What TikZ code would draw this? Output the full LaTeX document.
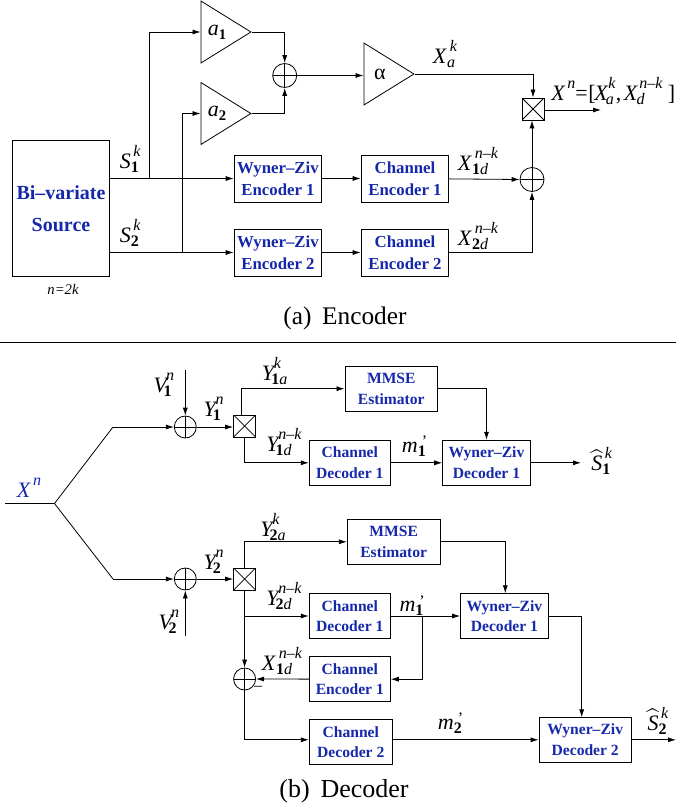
\documentclass[tikz,border=0pt]{standalone}
\usepackage{amsmath}
\usepackage{fontspec}
\setmainfont{Liberation Serif}
\usepackage{xcolor}
\usepackage{tikz}
\usetikzlibrary{arrows.meta}
\usetikzlibrary{shapes.geometric}
\definecolor{boxblue}{RGB}{22,40,170}
\newcommand{\smallsz}{\fontsize{12}{12}\selectfont}
\newcommand{\sym}[3]{\textit{#1}\rlap{\raisebox{-3pt}{\smallsz #2}}\kern2pt\raisebox{9pt}{\smallsz\textit{#3}}}
\newcommand{\prm}[2]{\textit{#1}\rlap{\raisebox{-3pt}{\smallsz #2}}\kern3pt\raisebox{4pt}{\smallsz '}}
\newcommand{\nar}[2]{\rlap{#1}\kern#2pt}
\newcommand{\bo}[1]{\textbf{#1}}
\newcommand{\nk}{n\textendash k}
\tikzset{
  sig/.style={-{Latex[length=6pt,width=3.8pt]}, line width=0.6pt},
  wire/.style={line width=0.6pt},
  srcbox/.style={draw, line width=0.7pt, align=center, text=boxblue, inner sep=0pt,
    font=\fontsize{15}{24}\selectfont\bfseries},
  encbox/.style={draw, line width=0.7pt, align=center, text=boxblue, inner sep=0pt,
    minimum width=65.8pt, minimum height=35.2pt, font=\fontsize{12.6}{16.8}\selectfont\bfseries},
  decbox/.style={draw, line width=0.7pt, align=center, text=boxblue, inner sep=0pt,
    minimum height=33.8pt, font=\fontsize{11.7}{15.4}\selectfont\bfseries},
  gain/.style={draw, line width=0.6pt, isosceles triangle, isosceles triangle stretches,
    shape border rotate=0, minimum width=46.5pt, minimum height=37.5pt, inner sep=0pt,
    anchor=lower side, font=\fontsize{16.5}{18}\selectfont},
  sumnode/.style={draw, line width=0.6pt, circle, minimum size=#1, inner sep=0pt,
    path picture={
      \draw [line width=0.6pt] (path picture bounding box.north) -- (path picture bounding box.south);
      \draw [line width=0.6pt] (path picture bounding box.west) -- (path picture bounding box.east);}},
  muxnode/.style={draw, line width=0.7pt, minimum size=16.5pt, inner sep=0pt,
    path picture={
      \draw [line width=0.6pt] (path picture bounding box.north west) -- (path picture bounding box.south east);
      \draw [line width=0.6pt] (path picture bounding box.south west) -- (path picture bounding box.north east);}},
  lab/.style={inner sep=0pt, anchor=base west, font=\fontsize{16.5}{18}\selectfont}
}
\begin{document}
\begin{tikzpicture}[x=0.75pt,y=-0.75pt]
    \useasboundingbox (0,0) rectangle (676,807);
    % encoder
    \node[srcbox, minimum width=72.5pt, minimum height=102pt] (src) at (61,208.5) {Bi\textendash variate\\Source};
    \node[gain] (a1) at (200.5,32) {\raisebox{-1.5pt}{\textit{a}\raisebox{-3pt}{\fontsize{11}{12}\selectfont\bo{1}}}};
    \node[gain] (a2) at (200.5,113.5) {\raisebox{-1.5pt}{\textit{a}\raisebox{-3pt}{\fontsize{11}{12}\selectfont\bo{2}}}};
    \node[gain] (al) at (363.5,74) {\raisebox{-1.5pt}{α}};
    \node[sumnode=18pt] (sum1) at (284.7,75.5) {};
    \node[sumnode=18pt] (sum2) at (532,179.5) {};
    \node[muxnode] (mux0) at (533,109) {};
    \node[encbox] (wz1) at (278,178.5) {Wyner\textendash Ziv\\Encoder 1};
    \node[encbox] (wz2) at (278,252.5) {Wyner\textendash Ziv\\Encoder 2};
    \node[encbox] (ce1) at (405,178.5) {Channel\\Encoder 1};
    \node[encbox] (ce2) at (405,252.5) {Channel\\Encoder 2};
    \coordinate (s1o) at (src.east |- wz1);
    \coordinate (s2o) at (src.east |- wz2);
    \coordinate (tap1) at (149,178.5);
    \coordinate (tap2) at (182,252.5);
    \coordinate (xout) at (601,110);
    \path [sig] (s1o) edge (wz1);
    \path [sig] (s2o) edge (wz2);
    \draw [sig] (tap1) |- (a1.lower side);
    \draw [sig] (tap2) |- (a2.lower side);
    \draw [sig] (a1.apex) -| (sum1.north);
    \draw [sig] (a2.apex) -| (sum1.south);
    \path [sig] (sum1) edge (sum1 -| al.lower side);
    \draw [sig] (al.apex) -| (mux0.north);
    \path [sig] (wz1) edge (ce1);
    \path [sig] (wz2) edge (ce2);
    \path [sig] (ce1) edge (sum2.west);
    \draw [sig] (ce2) -| (sum2.south);
    \path [sig] (sum2.north) edge (sum2.north |- mux0.south);
    \path [sig] (mux0.east |- xout) edge (xout);
    \node[lab] (ls1) at (119.5,168) {\sym{S}{\bo{1}}{k}};
    \node[lab] (ls2) at (119.5,242.5) {\sym{S}{\bo{2}}{k}};
    \node[lab] (lxa) at (432.7,63.3) {\sym{X}{\textit{a}}{k}};
    \node[lab] (lx1d) at (457.7,170.7) {\sym{X}{\bo{1}\textit{d}}{\nk}};
    \node[lab] (lx2d) at (457.7,245) {\sym{X}{\bo{2}\textit{d}}{\nk}};
    \node[lab] (lxn) at (551,100) {\textit{X}\kern1.5pt\raisebox{9pt}{\smallsz\textit{n}}=\kern0.5pt[\kern-1pt\sym{\nar{X}{8.5}}{\textit{a}}{k},\kern2pt\sym{\nar{X}{9.5}}{\textit{d}}{\nk}\kern4pt]};
    \node[inner sep=0pt, font=\fontsize{11}{12}\selectfont\itshape] (lnk) at (63,289) {n=2k};
    \node[inner sep=0pt, font=\fontsize{19}{22}\selectfont] (capa) at (345,318) {(a)\, Encoder};
    % separator
    \coordinate (ruleL) at (0,342);
    \coordinate (ruleR) at (676,342);
    \path [wire] (ruleL) edge (ruleR);
    % decoder
    \coordinate (xin) at (5,503.5);
    \coordinate (xsp) at (54.5,503.5);
    \coordinate (xup) at (113,427);
    \coordinate (xdn) at (113,579);
    \coordinate (v1) at (185.3,370);
    \coordinate (v2) at (185.3,636);
    \node[sumnode=16.5pt] (sum3) at (185.3,427) {};
    \node[sumnode=16.5pt] (sum4) at (185.3,579) {};
    \node[sumnode=16.5pt] (sum5) at (244.6,679) {};
    \node[muxnode] (mux1) at (244.6,426) {};
    \node[muxnode] (mux2) at (244.6,579) {};
    \coordinate (m1u) at (241.3,415.3);
    \node[decbox, minimum width=69.5pt] (est1) at (391.3,388.7) {MMSE\\Estimator};
    \node[decbox, minimum width=69.5pt] (est2) at (393.7,541.8) {MMSE\\Estimator};
    \node[decbox, minimum width=60.8pt] (cd1) at (349.8,462.8) {Channel\\Decoder 1};
    \node[decbox, minimum width=65.7pt] (wd1) at (486.5,462.8) {Wyner\textendash Ziv\\Decoder 1};
    \node[decbox, minimum width=60.8pt] (cd2) at (349.8,616) {Channel\\Decoder 1};
    \node[decbox, minimum width=60.8pt] (ce3) at (349.8,679.2) {Channel\\Encoder 1};
    \node[decbox, minimum width=62.2pt] (cd3) at (350.8,742.2) {Channel\\Decoder 2};
    \node[decbox, minimum width=65.7pt] (wd2) at (504.4,616) {Wyner\textendash Ziv\\Decoder 1};
    \node[decbox, minimum width=69.2pt] (wd3) at (585.2,739.8) {Wyner\textendash Ziv\\Decoder 2};
    \coordinate (s1e) at (581,462.8);
    \coordinate (s2e) at (676,739.8);
    \coordinate (tapm) at (422,616);
    \coordinate (tapy) at (244.6,616);
    \coordinate (wd2in) at (505.3,593.3);
    \coordinate (wd3in) at (581.7,717.3);
    \coordinate (cd3o) at (cd3.east |- wd3);
    \draw [wire] (xin) -- (xsp) -- (xup);
    \draw [wire] (xsp) -- (xdn);
    \path [sig] (xup) edge (sum3);
    \path [sig] (xdn) edge (sum4);
    \path [sig] (v1) edge (sum3.north);
    \path [sig] (v2) edge (sum4.south);
    \path [sig] (sum3) edge (mux1.west |- sum3);
    \path [sig] (sum4) edge (mux2);
    \draw [sig] (m1u) |- (est1);
    \draw [sig] (mux1.south) |- (cd1);
    \draw [sig] (est1) -| (wd1.north);
    \path [sig] (cd1) edge (wd1);
    \path [sig] (wd1) edge (s1e);
    \draw [sig] (mux2.north) |- (est2);
    \draw [sig] (est2) -| (wd2in);
    \path [sig] (mux2.south) edge (sum5.north);
    \path [sig] (tapy) edge (cd2);
    \path [sig] (ce3) edge (sum5.east);
    \draw [sig] (sum5.south) |- (cd3o -| cd3.west);
    \path [sig] (cd2) edge (wd2);
    \draw [sig] (tapm) |- (ce3);
    \draw [sig] (wd2) -| (wd3in);
    \path [sig] (cd3o) edge (wd3);
    \path [sig] (wd3) edge (s2e);
    \node[lab, text=boxblue] (lxn2) at (16.7,497.3) {\textit{X}\kern1.5pt\raisebox{9pt}{\smallsz\textit{n}}};
    \node[lab] (lv1) at (153.3,392.7) {\sym{\nar{V}{7.5}}{\bo{1}}{n}};
    \node[lab] (lv2) at (158.3,629.3) {\sym{\nar{V}{7.5}}{\bo{2}}{n}};
    \node[lab] (ly1) at (203.3,416) {\sym{\nar{Y}{7}}{\bo{1}}{n}};
    \node[lab] (ly2) at (203.3,569.3) {\sym{\nar{Y}{7}}{\bo{2}}{n}};
    \node[lab] (ly1a) at (261.7,380) {\sym{\nar{Y}{7}}{\bo{1}\textit{a}}{k}};
    \node[lab] (ly2a) at (260,536.7) {\sym{\nar{Y}{7}}{\bo{2}\textit{a}}{k}};
    \node[lab] (ly1d) at (266,451.7) {\sym{\nar{Y}{7}}{\bo{1}\textit{d}}{\nk}};
    \node[lab] (ly2d) at (266,605) {\sym{\nar{Y}{7}}{\bo{2}\textit{d}}{\nk}};
    \node[lab] (lx3d) at (261.7,670) {\sym{X}{\bo{1}\textit{d}}{\nk}};
    \node[lab] (lm1) at (401.7,452.3) {\prm{m}{\bo{1}}};
    \node[lab] (lm2) at (399.3,611.7) {\prm{m}{\bo{1}}};
    \node[lab] (lm3) at (437.7,729) {\prm{m}{\bo{2}}};
    \node[lab] (ls3) at (591,470.7) {\sym{$\widehat{\textit{S}}$}{\bo{1}}{k}};
    \node[lab] (ls4) at (647.3,730) {\sym{$\widehat{\textit{S}}$}{\bo{2}}{k}};
    \node[inner sep=0pt, font=\fontsize{12}{14}\selectfont] (lmin) at (258,688) {\textendash};
    \node[inner sep=0pt, font=\fontsize{19.5}{22}\selectfont] (capb) at (344,791) {(b)\, Decoder};
\end{tikzpicture}
\end{document}
